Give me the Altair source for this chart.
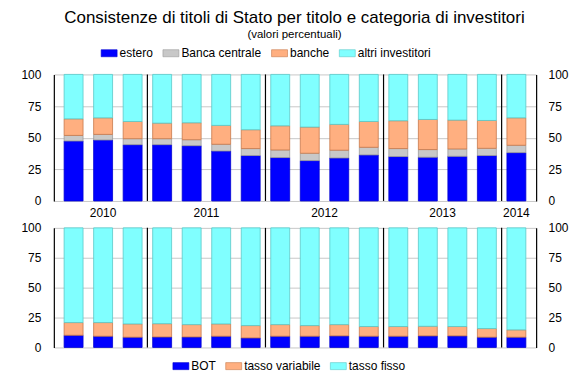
import altair as alt
import pandas as pd

# ---------------- data ----------------
bar_idx = list(range(16))
years = ["2010"] * 3 + ["2011"] * 4 + ["2012"] * 4 + ["2013"] * 4 + ["2014"]

investors = ["estero", "Banca centrale", "banche", "altri investitori"]
estero = [47.4, 48.2, 44.5, 44.5, 43.7, 39.5, 35.9, 34.3, 31.9, 34.0, 36.4, 35.1, 34.6, 35.3, 35.9, 38.2]
banca_centrale = [4.4, 4.4, 4.7, 4.7, 4.7, 5.3, 5.5, 6.0, 5.8, 6.1, 6.0, 6.3, 6.0, 5.8, 5.7, 5.8]
banche = [13.1, 13.1, 13.6, 12.3, 13.4, 14.9, 14.9, 19.1, 20.7, 20.4, 20.4, 22.0, 23.8, 22.8, 22.0, 21.7]
altri = [35.1, 34.3, 37.2, 38.5, 38.2, 40.3, 43.7, 40.6, 41.6, 39.5, 37.2, 36.6, 35.6, 36.1, 36.4, 34.3]

types = ["BOT", "tasso variabile", "tasso fisso"]
bot = [10.2, 9.4, 8.6, 8.8, 8.8, 9.4, 8.0, 9.4, 9.4, 9.7, 9.4, 9.4, 9.7, 9.7, 8.6, 8.6]
variabile = [10.6, 11.4, 11.1, 11.1, 10.3, 10.3, 10.3, 9.7, 8.9, 9.4, 8.1, 8.1, 8.0, 7.8, 7.2, 6.1]
fisso = [79.2, 79.2, 80.3, 80.1, 80.9, 80.3, 81.7, 80.9, 81.7, 80.9, 82.5, 82.5, 82.3, 82.5, 84.2, 85.3]

inv_colors = ["#0000FF", "#C8C8C8", "#FFAF80", "#80FFFF"]
inv_strokes = ["#0000D0", "#9A9A9A", "#C8784A", "#5CC8C8"]
type_colors = ["#0000FF", "#FFAF80", "#80FFFF"]
type_strokes = ["#0000D0", "#C8784A", "#5CC8C8"]

FONT = "Liberation Sans"
W = 484
H_TOP = 127
H_BOT = 120


def long_df(names, series):
    rows = []
    for k, (name, vals) in enumerate(zip(names, series)):
        for i, v in enumerate(vals):
            rows.append({"idx": bar_idx[i], "year": years[i], "serie": name, "k": k, "value": v})
    return pd.DataFrame(rows)


top_df = long_df(investors, [estero, banca_centrale, banche, altri])
bot_df = long_df(types, [bot, variabile, fisso])
year_df = pd.DataFrame({"idx": bar_idx, "year": years})

xscale = alt.Scale(domain=[-0.5, 15.5], nice=False, zero=False)
yscale = alt.Scale(domain=[0, 100], nice=False)
yvals = [0, 25, 50, 75, 100]


def panel(df, names, colors, strokes, h, lx, ly, with_years):
    bars = alt.Chart(df).mark_bar(size=19, strokeWidth=0.8).encode(
        x=alt.X("idx:Q", scale=xscale,
                axis=alt.Axis(labels=False, ticks=False, grid=False, domainColor="black",
                              domainWidth=1.2, title=None)),
        y=alt.Y("value:Q", stack="zero", scale=yscale,
                axis=alt.Axis(values=yvals, ticks=False, labelPadding=13, domainColor="black",
                              domainWidth=1.2, gridColor="#C8C8C8", title=None)),
        color=alt.Color("serie:N", scale=alt.Scale(domain=names, range=colors),
                        legend=alt.Legend(orient="none", legendX=lx, legendY=ly,
                                          direction="horizontal", title=None,
                                          symbolType="M-1,-0.44H1V0.44H-1Z", symbolSize=256,
                                          symbolStrokeColor="#888888", symbolStrokeWidth=0.6,
                                          labelFontSize=12, labelOffset=2, columnPadding=8,
                                          labelColor="black", labelFont=FONT)),
        stroke=alt.Stroke("serie:N", scale=alt.Scale(domain=names, range=strokes), legend=None),
        order=alt.Order("k:Q"),
    )
    seps = alt.Chart(year_df).transform_aggregate(
        last="max(idx)", groupby=["year"]
    ).transform_filter("datum.last < 15").transform_calculate(
        pos="datum.last + 0.5"
    ).mark_rule(color="black", strokeWidth=1.2).encode(
        x=alt.X("pos:Q", scale=xscale, axis=None),
        y=alt.value(0),
        y2=alt.value(h),
    )
    right = alt.Chart(pd.DataFrame({"v": [0, 100]})).mark_point(opacity=0).encode(
        y=alt.Y("v:Q", scale=yscale,
                axis=alt.Axis(orient="right", values=yvals, ticks=False, labelPadding=12,
                              domainColor="black", domainWidth=1.2, grid=False, title=None)),
    )
    layers = [bars, seps]
    if with_years:
        ylab = alt.Chart(year_df).transform_aggregate(
            center="mean(idx)", groupby=["year"]
        ).mark_text(fontSize=12, font=FONT, color="black", baseline="middle").encode(
            x=alt.X("center:Q", scale=xscale, axis=None),
            y=alt.value(h + 12),
            text="year:N",
        )
        layers.append(ylab)
    layers.append(right)
    return alt.layer(*layers).resolve_scale(y="independent").properties(width=W, height=h)


top = panel(top_df, investors, inv_colors, inv_strokes, H_TOP, 47, -30, True)
bottom = panel(bot_df, types, type_colors, type_strokes, H_BOT, 119, 130, False)

chart = alt.vconcat(top, bottom, spacing=3).resolve_scale(
    color="independent", stroke="independent"
).properties(
    title=alt.TitleParams(
        text="Consistenze di titoli di Stato per titolo e categoria di investitori",
        subtitle="(valori percentuali)",
        fontSize=17, subtitleFontSize=11.5, font=FONT, subtitleFont=FONT,
        fontWeight="normal", color="black", subtitleColor="black",
        anchor="middle", offset=3, subtitlePadding=2,
    ),
    padding={"left": 12, "top": 0, "right": 5, "bottom": 0},
).configure(font=FONT).configure_view(stroke=None).configure_axis(
    labelFontSize=12, labelColor="black", labelFont=FONT
)

chart.save("out.html", embed_options={"renderer": "svg", "actions": False})
